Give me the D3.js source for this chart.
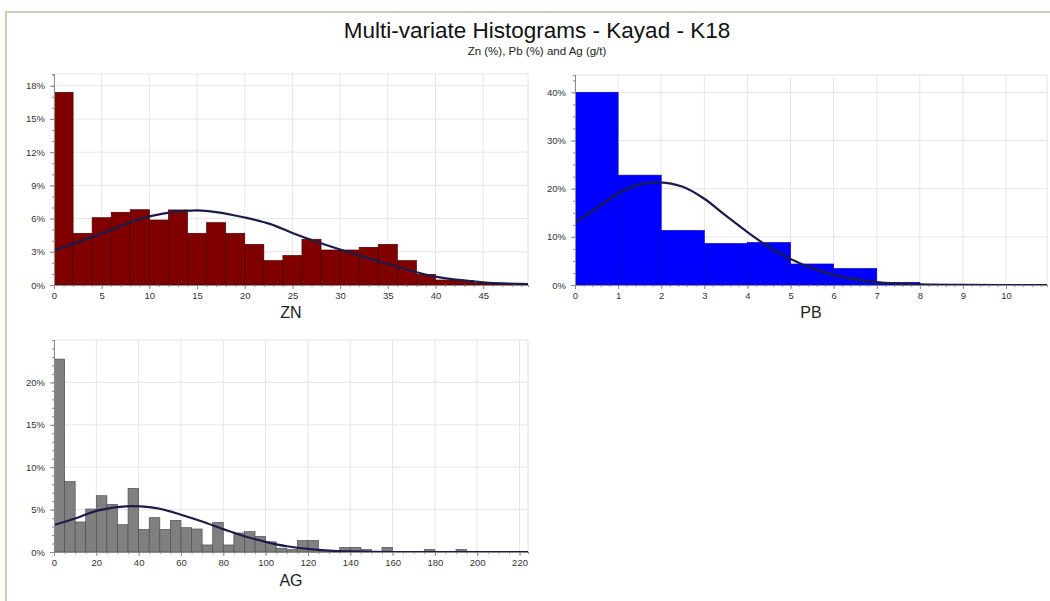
<!DOCTYPE html>
<html>
<head>
<meta charset="utf-8">
<script src="https://cdn.jsdelivr.net/npm/d3@7"></script>
<style>
  body { margin: 0; background: #fff; }
  svg { display: block; font-family: "Liberation Sans", Arial, sans-serif; }
</style>
</head>
<body>
<div id="chart"></div>
<script>
// histogram values (% of samples per bin)
const znBinWidth = 2;
const znValues = [17.4, 4.67, 6.08, 6.57, 6.8, 5.87, 6.78, 4.67, 5.63, 4.67, 3.67, 2.2, 2.66,
  4.13, 3.16, 3.16, 3.4, 3.67, 2.2, 0.96, 0.45, 0.42, 0.18, 0.05, 0.03];
const znCurve = [[0, 3.1], [5, 4.65], [10, 6.2], [15, 6.75], [20, 6.1], [22.7, 5.5], [25, 4.7],
  [30, 3.2], [35, 1.9], [40, 0.75], [45, 0.25], [49.7, 0.08]];

const pbBinWidth = 1;
const pbValues = [40.0, 22.8, 11.3, 8.6, 8.8, 4.36, 3.4, 0.55, 0.15];
const pbCurve = [[0, 12.9], [0.5, 15.9], [1, 19.0], [1.5, 20.9], [1.9, 21.3], [2.5, 20.4], [3, 17.9],
  [3.5, 14.4], [4, 11.0], [4.5, 7.9], [5, 5.4], [5.5, 3.5], [6, 2.1], [7, 0.6], [8, 0.15],
  [9, 0.03], [10, 0], [10.95, 0]];

const agBinWidth = 5;
const agValues = [22.75, 8.3, 3.54, 5.07, 6.64, 5.62, 3.22, 7.5, 2.67, 4.05, 2.67, 3.73, 2.87,
  2.71, 0.83, 3.5, 0.83, 2.24, 2.4, 1.85, 1.2, 0.45, 0.3, 1.34, 1.34, 0.15, 0.1, 0.55, 0.55,
  0.3, 0, 0.55, 0, 0, 0.08, 0.3, 0, 0, 0.3];
const agCurve = [[0, 3.18], [10, 3.95], [20, 4.85], [30, 5.3], [37, 5.42], [45, 5.3], [50, 5.1],
  [60, 4.4], [70, 3.6], [80, 2.7], [90, 1.85], [100, 1.2], [110, 0.68], [120, 0.37],
  [130, 0.17], [140, 0.07], [150, 0.02], [160, 0], [224, 0]];

const znXTicks = [0, 5, 10, 15, 20, 25, 30, 35, 40, 45];
const znYTicks = [0, 3, 6, 9, 12, 15, 18];
const pbXTicks = [0, 1, 2, 3, 4, 5, 6, 7, 8, 9, 10];
const pbYTicks = [0, 10, 20, 30, 40];
const agXTicks = [0, 20, 40, 60, 80, 100, 120, 140, 160, 180, 200, 220];
const agYTicks = [0, 5, 10, 15, 20];

const width = 1050;
const height = 601;

const svg = d3.select('#chart').append('svg')
  .attr('width', width)
  .attr('height', height);

svg.append('rect').attr('width', width).attr('height', height).attr('fill', '#fff');

// outer frame
svg.append('rect')
  .attr('x', 6).attr('y', 12)
  .attr('width', width + 10).attr('height', height)
  .attr('fill', 'none')
  .attr('stroke', '#cdcdb8')
  .attr('stroke-width', 2);

svg.append('text')
  .attr('x', 537).attr('y', 38)
  .attr('text-anchor', 'middle')
  .style('font-size', '22.5px')
  .style('fill', '#111')
  .text('Multi-variate Histograms - Kayad - K18');

svg.append('text')
  .attr('x', 537).attr('y', 55)
  .attr('text-anchor', 'middle')
  .style('font-size', '11.5px')
  .style('fill', '#222')
  .text('Zn (%), Pb (%) and Ag (g/t)');

const range = (a, b, step) => d3.range(a, b + step / 2, step);

const drawHistogram = cfg => {
  const {left, top, right, bottom} = cfg.box;
  const x = d3.scaleLinear().domain(cfg.xDomain).range([left, right]);
  const y = d3.scaleLinear().domain(cfg.yDomain).range([bottom, top]);
  const g = svg.append('g');

  const clipId = 'clip-' + cfg.name;
  g.append('clipPath').attr('id', clipId)
    .append('rect')
    .attr('x', left).attr('y', top)
    .attr('width', right - left).attr('height', bottom - top);

  // grid
  g.append('g').selectAll('line').data(cfg.xTicks).join('line')
    .attr('x1', d => x(d)).attr('x2', d => x(d))
    .attr('y1', top).attr('y2', bottom)
    .attr('stroke', '#e6e6e6');
  g.append('g').selectAll('line').data(cfg.yTicks).join('line')
    .attr('x1', left).attr('x2', right)
    .attr('y1', d => y(d)).attr('y2', d => y(d))
    .attr('stroke', '#e6e6e6');
  g.append('path')
    .attr('d', `M${left},${top}H${right}V${bottom}`)
    .attr('fill', 'none')
    .attr('stroke', '#e2e2e2');

  const bins = cfg.values
    .map((v, i) => ({x0: i * cfg.binWidth, x1: (i + 1) * cfg.binWidth, v}))
    .filter(d => d.v > 0);

  g.append('g').attr('clip-path', `url(#${clipId})`)
    .selectAll('rect').data(bins).join('rect')
    .attr('x', d => x(d.x0))
    .attr('width', d => x(d.x1) - x(d.x0))
    .attr('y', d => y(d.v))
    .attr('height', d => y(0) - y(d.v))
    .attr('fill', cfg.fill)
    .attr('stroke', cfg.stroke)
    .attr('stroke-width', 0.7);

  const line = d3.line()
    .x(d => x(d[0]))
    .y(d => y(d[1]))
    .curve(d3.curveMonotoneX);

  g.append('path')
    .datum(cfg.curve)
    .attr('clip-path', `url(#${clipId})`)
    .attr('d', line)
    .attr('fill', 'none')
    .attr('stroke', '#1c1c4a')
    .attr('stroke-width', 2.2);

  // axes: minor ticks first, then major ticks with labels
  const styleAxis = a => {
    a.select('.domain').attr('stroke', '#8c8c8c');
    a.selectAll('.tick line').attr('stroke', '#8c8c8c');
    a.selectAll('.tick text').style('font-size', '9.5px').style('fill', '#333');
  };

  g.append('g').attr('transform', `translate(0,${bottom})`)
    .call(d3.axisBottom(x).tickValues(cfg.xMinor).tickSize(2).tickFormat(''))
    .call(styleAxis);
  g.append('g').attr('transform', `translate(0,${bottom})`)
    .call(d3.axisBottom(x).tickValues(cfg.xTicks).tickSize(4).tickPadding(3).tickSizeOuter(0))
    .call(styleAxis);

  g.append('g').attr('transform', `translate(${left},0)`)
    .call(d3.axisLeft(y).tickValues(cfg.yMinor).tickSize(2).tickFormat(''))
    .call(styleAxis);
  g.append('g').attr('transform', `translate(${left},0)`)
    .call(d3.axisLeft(y).tickValues(cfg.yTicks).tickSize(4).tickPadding(5).tickSizeOuter(0)
      .tickFormat(d => d + '%'))
    .call(styleAxis);

  g.append('text')
    .attr('x', (left + right) / 2)
    .attr('y', bottom + cfg.titleOffset)
    .attr('text-anchor', 'middle')
    .style('font-size', '16px')
    .style('fill', '#222')
    .text(cfg.name);
};

drawHistogram({
  name: 'ZN',
  box: {left: 54, top: 74, right: 528, bottom: 285},
  xDomain: [0, 49.7], yDomain: [0, 19.06],
  xTicks: znXTicks, yTicks: znYTicks,
  xMinor: range(0, 49, 1), yMinor: range(0, 19, 1),
  values: znValues, binWidth: znBinWidth, curve: znCurve,
  fill: '#800000', stroke: '#4a0000', titleOffset: 33
});

drawHistogram({
  name: 'PB',
  box: {left: 575, top: 75, right: 1047, bottom: 285},
  xDomain: [0, 10.95], yDomain: [0, 43.6],
  xTicks: pbXTicks, yTicks: pbYTicks,
  xMinor: range(0, 10.8, 0.2), yMinor: range(0, 42.5, 2.5),
  values: pbValues, binWidth: pbBinWidth, curve: pbCurve,
  fill: '#0000ff', stroke: '#0000c8', titleOffset: 33
});

drawHistogram({
  name: 'AG',
  box: {left: 54, top: 340, right: 528, bottom: 552},
  xDomain: [0, 224], yDomain: [0, 25],
  xTicks: agXTicks, yTicks: agYTicks,
  xMinor: range(0, 220, 5), yMinor: range(0, 25, 1),
  values: agValues, binWidth: agBinWidth, curve: agCurve,
  fill: '#808080', stroke: '#505050', titleOffset: 34
});
</script>
</body>
</html>
